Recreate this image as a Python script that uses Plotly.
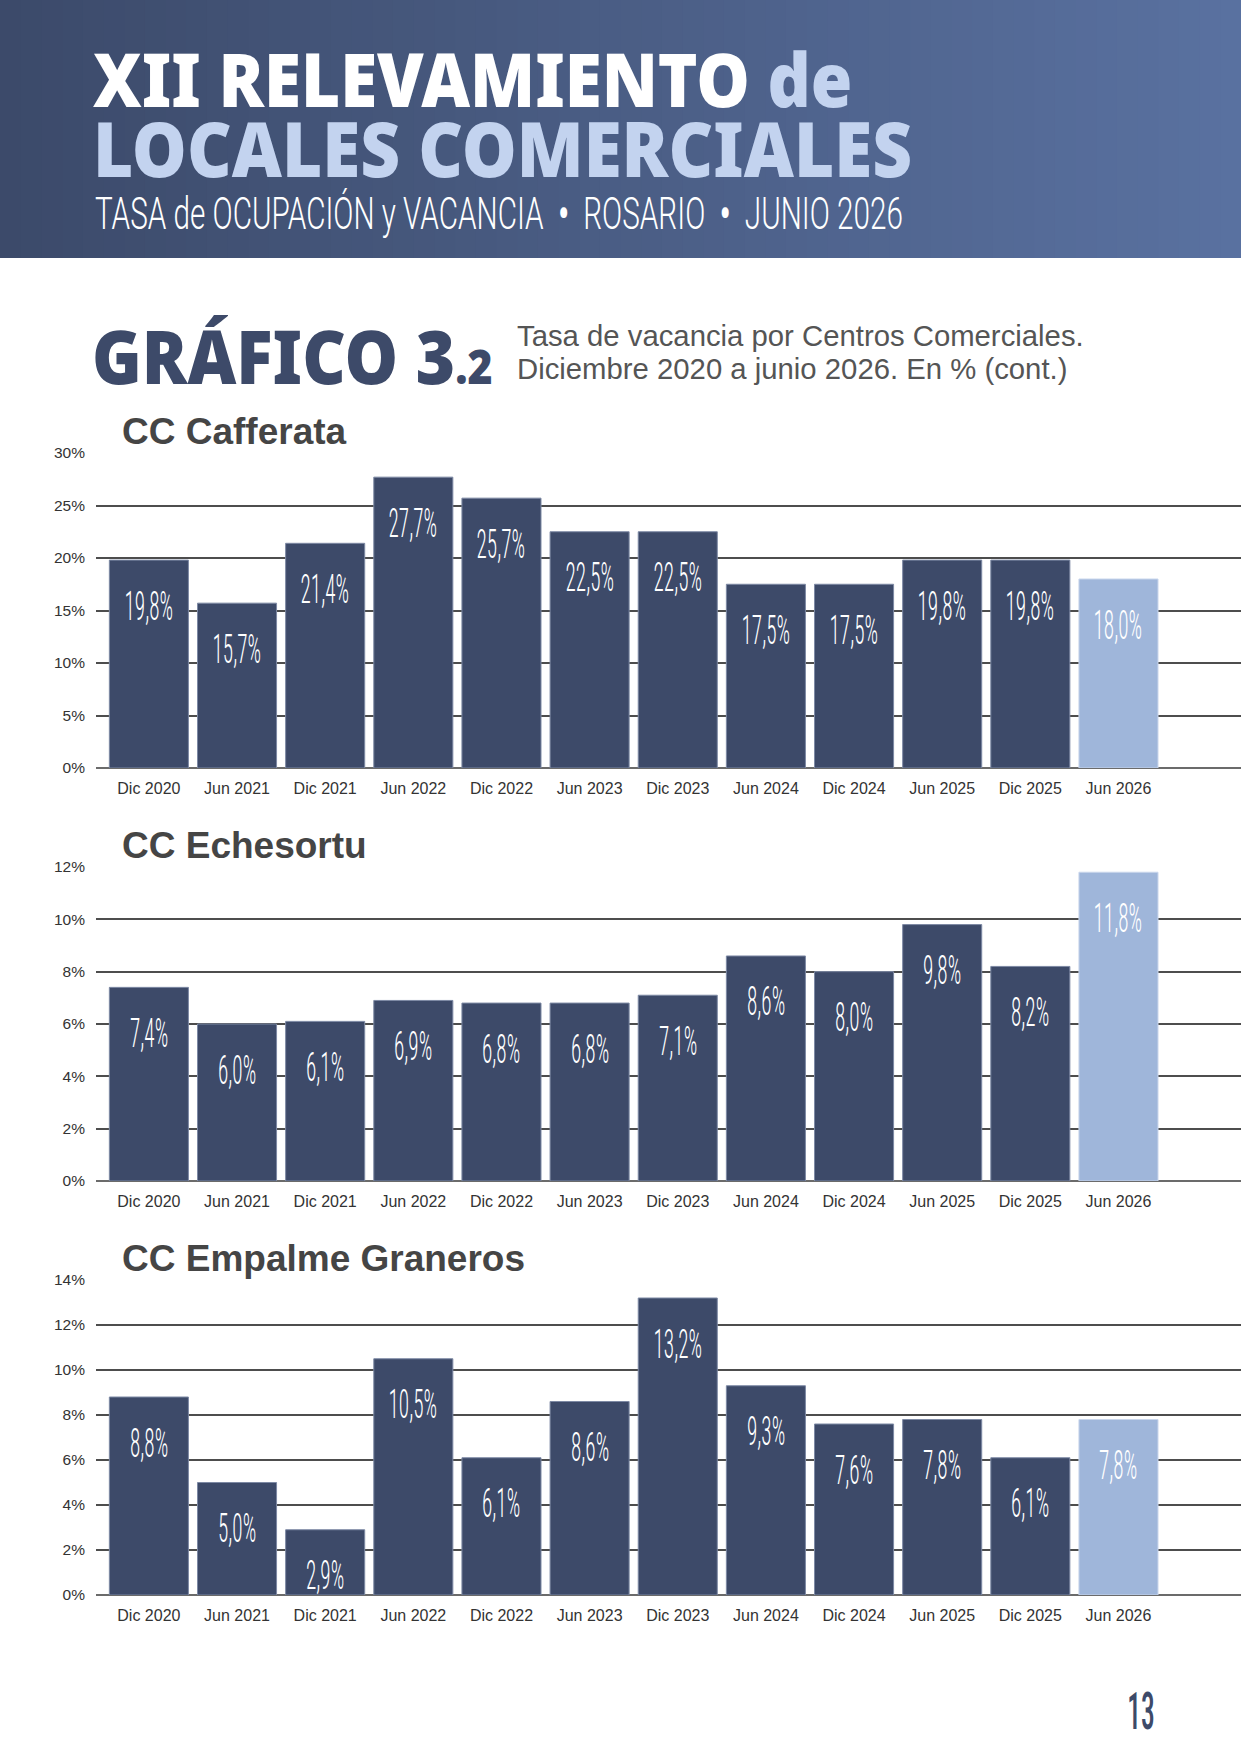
import plotly.graph_objects as go

# periods (same for the three shopping centres)
periodos = ["Dic 2020", "Jun 2021", "Dic 2021", "Jun 2022", "Dic 2022", "Jun 2023",
            "Dic 2023", "Jun 2024", "Dic 2024", "Jun 2025", "Dic 2025", "Jun 2026"]

# vacancy rate in %
cafferata = [19.8, 15.7, 21.4, 27.7, 25.7, 22.5, 22.5, 17.5, 17.5, 19.8, 19.8, 18.0]
echesortu = [7.4, 6.0, 6.1, 6.9, 6.8, 6.8, 7.1, 8.6, 8.0, 9.8, 8.2, 11.8]
empalme = [8.8, 5.0, 2.9, 10.5, 6.1, 8.6, 13.2, 9.3, 7.6, 7.8, 6.1, 7.8]

centros = ["CC Cafferata", "CC Echesortu", "CC Empalme Graneros"]
series = [cafferata, echesortu, empalme]
y_max = [30, 12, 14]
y_step = [5, 2, 2]

W, H = 1241, 1754
DARK = "#3d4a69"
LIGHT = "#9fb6da"
SANS = "Liberation Sans, Arial, Helvetica, sans-serif"
# the first name of these families is only a marker, the page squeezes
# those texts horizontally (no condensed fonts available offline)
COND = "Roboto Condensed, Roboto, sans-serif"
NARROW = "Roboto Narrow, Roboto, sans-serif"
HEAVY = "Noto Sans SemiCondensed, Noto Sans, sans-serif"


def py(px):
    # pixel from top -> paper fraction
    return 1 - px / H


# plot area pixel rows (top gridline, baseline)
rows = [(453, 768), (867, 1181), (1280, 1595)]

fig = go.Figure()

annotations = []
for i, (nombre, vals) in enumerate(zip(centros, series)):
    n = "" if i == 0 else str(i + 1)
    colores = [DARK] * (len(vals) - 1) + [LIGHT]
    bordes = ["#7d89a4"] * (len(vals) - 1) + ["#c9d6ec"]
    fig.add_trace(go.Bar(
        x=periodos, y=vals,
        marker=dict(color=colores, line=dict(color=bordes, width=1)),
        xaxis="x" + n, yaxis="y" + n,
        hoverinfo="x+y", showlegend=False,
    ))
    top, bot = rows[i]
    fig.update_layout({
        "xaxis" + n: dict(
            domain=[96 / W, 1], anchor="y" + n, type="category",
            range=[-0.6, 12.39], showgrid=False, ticks="",
            ticklabelstandoff=9,
            tickfont=dict(family=SANS, size=16, color="#333333"),
            showline=False, fixedrange=True,
        ),
        "yaxis" + n: dict(
            domain=[py(bot), py(top)], anchor="x" + n,
            range=[0, y_max[i]], dtick=y_step[i], ticksuffix="%",
            showgrid=True, gridcolor="#4d4d4d", gridwidth=1.5,
            zeroline=True, zerolinecolor="#6b6b6b", zerolinewidth=1.5,
            ticks="", ticklabelstandoff=10,
            tickfont=dict(family=SANS, size=15.5, color="#333333"),
            fixedrange=True,
        ),
    })
    # chart title
    annotations.append(dict(
        text="<b>" + nombre + "</b>", xref="paper", yref="paper",
        x=120 / W, y=py(top - 22), xanchor="left", yanchor="middle",
        showarrow=False, font=dict(family=SANS, size=37, color="#454545"),
    ))
    # value labels inside the bars
    for p, v in zip(periodos, vals):
        annotations.append(dict(
            text=f"{v:.1f}".replace(".", ",") + "%",
            x=p, y=v, xref="x" + n, yref="y" + n, yshift=-46,
            xanchor="center", yanchor="middle", showarrow=False,
            font=dict(family=COND, size=40, color="white", weight=300),
        ))

# header band with horizontal gradient
shapes = []
c0, c1 = (60, 74, 106), (89, 113, 160)
strips = 60
for k in range(strips):
    t = k / (strips - 1)
    col = "rgb({},{},{})".format(*[round(a + (b - a) * t) for a, b in zip(c0, c1)])
    shapes.append(dict(
        type="rect", xref="paper", yref="paper", layer="below",
        x0=k / strips, x1=(k + 1) / strips + 0.002, y0=py(258), y1=1.01,
        fillcolor=col, line=dict(width=0),
    ))

sep = "\u00a0\u00a0<b>•</b>\u00a0\u00a0"
annotations += [
    dict(text="XII RELEVAMIENTO <span style='color:#c3d3ef'>de</span>",
         x=91 / W, y=py(78), xanchor="left", yanchor="middle", align="left",
         font=dict(family=HEAVY, size=74, color="white", weight=900)),
    dict(text="LOCALES COMERCIALES",
         x=91 / W, y=py(147), xanchor="left", yanchor="middle", align="left",
         font=dict(family=HEAVY, size=76, color="#c3d3ef", weight=900)),
    dict(text="TASA de OCUPACIÓN y VACANCIA" + sep + "ROSARIO" + sep + "JUNIO 2026",
         x=93 / W, y=py(214), xanchor="left", yanchor="middle", align="left",
         font=dict(family=NARROW, size=44, color="white", weight=300)),
    dict(text="GRÁFICO 3<span style='font-size:47px'>.2</span>",
         x=90 / W, y=py(356), xanchor="left", yanchor="middle", align="left",
         font=dict(family=HEAVY, size=74, color="#3d4a69", weight=900)),
    dict(text="Tasa de vacancia por Centros Comerciales.",
         x=515 / W, y=py(335), xanchor="left", yanchor="middle", align="left",
         font=dict(family=SANS, size=29.3, color="#555555")),
    dict(text="Diciembre 2020 a junio 2026. En % (cont.)",
         x=515 / W, y=py(368), xanchor="left", yanchor="middle", align="left",
         font=dict(family=SANS, size=29.3, color="#555555")),
    dict(text="13", x=1141 / W, y=py(1711), xanchor="center", yanchor="middle",
         font=dict(family=COND, size=52, color="#3d4a69", weight=500)),
]
for a in annotations[-7:]:
    a.update(xref="paper", yref="paper", showarrow=False)

fig.update_layout(
    width=W, height=H,
    margin=dict(l=0, r=0, t=0, b=0, pad=0, autoexpand=False),
    paper_bgcolor="white", plot_bgcolor="white",
    bargap=0.103, showlegend=False,
    shapes=shapes, annotations=annotations,
    font=dict(family=SANS),
)

post = """
function squeeze() {
  document.documentElement.style.margin = '0';
  document.body.style.margin = '0';
  document.body.style.padding = '0';
  document.body.style.overflow = 'hidden';
  var gd = document.querySelector('.plotly-graph-div');
  gd.style.position = 'absolute'; gd.style.top = '0px'; gd.style.left = '0px';
  var k = {'Roboto Condensed': 0.53, 'Roboto Narrow': 0.675, 'Noto Sans SemiCondensed': 0.91};
  document.querySelectorAll('text').forEach(function (t) {
    var f = t.style.fontFamily || '';
    for (var name in k) {
      if (f.indexOf(name) >= 0) {
        t.style.transformBox = 'fill-box';
        t.style.transformOrigin = t.getAttribute('text-anchor') === 'start' ? 'left center' : 'center';
        t.style.transform = 'scaleX(' + k[name] + ')';
      }
    }
  });
}
squeeze();
setTimeout(squeeze, 200);
"""

fig.write_html("out.html", post_script=post, config={"displayModeBar": False})
